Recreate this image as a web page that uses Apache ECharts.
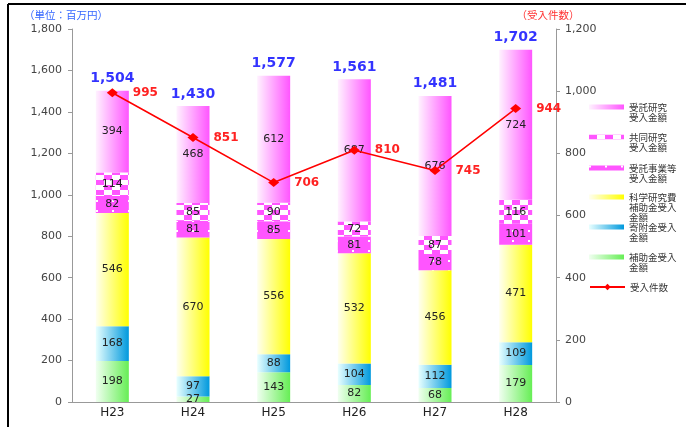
<!DOCTYPE html>
<html><head><meta charset="utf-8">
<script src="https://cdn.jsdelivr.net/npm/echarts@6/dist/echarts.min.js"></script>
<style>html,body{margin:0;padding:0;background:#fff}#c{width:686px;height:427px}</style>
</head><body><div id="c"></div>
<script>
const categories = ['H23','H24','H25','H26','H27','H28'];
const hojokin   = [198, 27, 143, 82, 68, 179];   // 補助金受入金額
const kifukin   = [168, 97, 88, 104, 112, 109];  // 寄附金受入金額
const kakenhi   = [546, 670, 556, 532, 456, 471];// 科学研究費補助金受入金額
const jutakuJigyo = [82, 81, 85, 81, 78, 101];   // 受託事業等受入金額
const kyodo     = [114, 85, 90, 72, 87, 116];    // 共同研究受入金額
const jutakuKenkyu = [394, 468, 612, 687, 676, 724]; // 受託研究受入金額
const totals    = [1504, 1430, 1577, 1561, 1481, 1702];
const counts    = [995, 851, 706, 810, 745, 944]; // 受入件数
const leftTicks = {min:0, max:1800, interval:200};
const rightTicks = {min:0, max:1200, interval:200};

const names = ['受託研究受入金額','共同研究受入金額','受託事業等受入金額','科学研究費補助金受入金額','寄附金受入金額','補助金受入金額','受入件数'];
const legendText = {
  '受託研究受入金額':'\n受託研究\n受入金額',
  '共同研究受入金額':'\n共同研究\n受入金額',
  '受託事業等受入金額':'\n受託事業等\n受入金額',
  '科学研究費補助金受入金額':'\n\n科学研究費\n補助金受入\n金額',
  '寄附金受入金額':'\n寄附金受入\n金額',
  '補助金受入金額':'\n補助金受入\n金額',
  '受入件数':'受入件数'
};
const legendTops = [92, 122, 153, 172, 212, 242, 282];

function grad(a,b){return {type:'linear',x:0,y:0,x2:1,y2:0,colorStops:[{offset:0,color:a},{offset:1,color:b}]};}
function checker(){
  const c=document.createElement('canvas');c.width=16;c.height=10;
  const g=c.getContext('2d');g.fillStyle='#ffffff';g.fillRect(0,0,16,10);
  g.fillStyle='#ff55ff';g.fillRect(0,0,8,5);g.fillRect(8,5,8,5);return c;
}
function dotted(){
  const c=document.createElement('canvas');c.width=16;c.height=10;
  const g=c.getContext('2d');g.fillStyle='#ff55ff';g.fillRect(0,0,16,10);
  g.fillStyle='#ffffff';g.fillRect(0,0,2,2);return c;
}
const numFont='DejaVu Sans';
const inLabel={show:true,position:'inside',color:'#222',fontSize:11,fontFamily:numFont};
function bar(name,data,color){
  return {name,type:'bar',stack:'a',data,barWidth:33,itemStyle:{color},label:inLabel,yAxisIndex:0};
}
const chart=echarts.init(document.getElementById('c'),null,{renderer:'canvas'});
const legends=names.map((n,i)=>({
  data:[n], left:589, top:legendTops[i], padding:0, orient:'vertical',
  itemWidth:35, itemHeight:(n==='受入件数'?8:5), icon:(n==='受入件数'?undefined:'rect'),
  formatter:(nm)=>legendText[nm],
  textStyle:{fontSize:9.5,lineHeight:10,color:'#333',fontFamily:'Noto Sans CJK JP'},
  selectedMode:false
}));
chart.setOption({
  animation:false,
  backgroundColor:'#fff',
  grid:{left:72,right:130,top:29,bottom:25},
  legend:legends,
  xAxis:{type:'category',data:categories,
    axisLine:{lineStyle:{color:'#999'}},axisTick:{length:4,lineStyle:{color:'#999'}},
    axisLabel:{color:'#222',fontSize:12,fontFamily:numFont,margin:5}},
  yAxis:[
    {type:'value',min:leftTicks.min,max:leftTicks.max,interval:leftTicks.interval,
     name:'（単位：百万円）',nameLocation:'end',nameGap:9,
     nameTextStyle:{color:'#3366ff',fontSize:10.5,fontFamily:'Noto Sans CJK JP',padding:[0,12,0,0]},
     axisLine:{show:true,lineStyle:{color:'#999'}},axisTick:{show:true,length:4,lineStyle:{color:'#999'}},
     splitLine:{show:false},
     axisLabel:{color:'#444',fontSize:11,fontFamily:numFont,margin:10,formatter:v=>v.toLocaleString('en-US')}},
    {type:'value',min:rightTicks.min,max:rightTicks.max,interval:rightTicks.interval,position:'right',
     name:'（受入件数）',nameLocation:'end',nameGap:9,
     nameTextStyle:{color:'#ff3333',fontSize:10.5,fontFamily:'Noto Sans CJK JP',padding:[0,16,0,0]},
     axisLine:{show:true,lineStyle:{color:'#999'}},axisTick:{show:true,length:4,lineStyle:{color:'#999'}},
     splitLine:{show:false},
     axisLabel:{color:'#444',fontSize:11,fontFamily:numFont,margin:9,formatter:v=>v.toLocaleString('en-US')}}
  ],
  graphic:[
    {type:'line',shape:{x1:8,y1:4,x2:8,y2:427},style:{stroke:'#000',lineWidth:2},silent:true},
    {type:'line',shape:{x1:8,y1:4,x2:686,y2:4},style:{stroke:'#000',lineWidth:2},silent:true}
  ],
  series:[
    bar('補助金受入金額',hojokin,grad('#f0fff0','#66ee55')),
    bar('寄附金受入金額',kifukin,grad('#e8ffff','#0099dd')),
    bar('科学研究費補助金受入金額',kakenhi,grad('#fffff0','#ffff00')),
    bar('受託事業等受入金額',jutakuJigyo,{image:dotted(),repeat:'repeat'}),
    bar('共同研究受入金額',kyodo,{image:checker(),repeat:'repeat'}),
    bar('受託研究受入金額',jutakuKenkyu,grad('#fff2ff','#ff55ff')),
    {name:'合計',type:'scatter',data:totals,yAxisIndex:0,symbolSize:1,itemStyle:{color:'rgba(0,0,0,0)'},
     label:{show:true,position:'top',distance:4,color:'#0000ff',fontSize:14,fontWeight:'bold',fontFamily:numFont,
       formatter:p=>p.value.toLocaleString('en-US')},z:5},
    {name:'受入件数',type:'line',data:counts,yAxisIndex:1,color:'#ff0000',
     lineStyle:{color:'#ff0000',width:1.5},symbol:'diamond',symbolSize:[11,9],
     itemStyle:{color:'#ff0000'},
     label:{show:true,position:'right',distance:15,color:'#ff2222',fontSize:12,fontWeight:'bold',fontFamily:numFont},z:6}
  ]
});
</script></body></html>
